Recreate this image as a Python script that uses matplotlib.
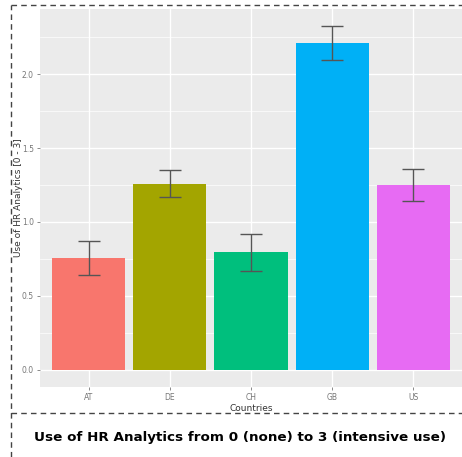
import numpy as np
import matplotlib.pyplot as plt
from matplotlib.lines import Line2D

# data
countries = ['AT', 'DE', 'CH', 'GB', 'US']
usage = [0.755, 1.26, 0.795, 2.21, 1.25]
errors = [0.115, 0.09, 0.124, 0.115, 0.106]
colors = ['#F8766D', '#A3A500', '#00BF7D', '#00B0F6', '#E76BF3']

W, H = 462, 457
fig = plt.figure(figsize=(W / 100, H / 100), dpi=100)
ax = fig.add_axes([40 / W, (H - 387) / H, (462 - 40) / W, (387 - 9) / H])

x = np.arange(len(countries))
ax.set_facecolor('#EBEBEB')
ax.bar(x, usage, width=0.9, color=colors, zorder=2)
ax.errorbar(x, usage, yerr=errors, fmt='none', ecolor='#555555',
            elinewidth=1.0, capsize=8, capthick=1.0, zorder=3)

ax.set_xlim(-0.6, len(countries) - 0.4)
ax.set_ylim(-0.116, 2.44)
ax.set_yticks([0.0, 0.5, 1.0, 1.5, 2.0])
ax.set_yticks([0.25, 0.75, 1.25, 1.75, 2.25], minor=True)
ax.set_yticklabels(['0.0', '0.5', '1.0', '1.5', '2.0'])
ax.set_xticks(x)
ax.set_xticklabels(countries)
ax.grid(True, which='major', color='white', linewidth=1.0, zorder=0)
ax.grid(True, which='minor', axis='y', color='white', linewidth=0.5, zorder=0)
ax.set_axisbelow(True)
for s in ax.spines.values():
    s.set_visible(False)
ax.tick_params(axis='both', which='major', length=2.5, width=0.6,
               color='#777777', labelsize=5.5, labelcolor='#777777', pad=2)
ax.tick_params(axis='y', which='minor', length=0)

ax.set_xlabel('Countries', fontsize=6.5, color='#333333', labelpad=1)
ax.set_ylabel('Use of HR Analytics [0 - 3]', fontsize=6.5, color='#333333')
ax.yaxis.set_label_coords((23 - 40) / (462 - 40), 0.5)

# dashed frame around the chart
dash = dict(color='#444444', linewidth=1.0, linestyle=(0, (4, 3)))
fig.add_artist(Line2D([11 / W, 11 / W], [0, 1 - 5 / H], transform=fig.transFigure, **dash))
fig.add_artist(Line2D([11 / W, 1], [1 - 5 / H, 1 - 5 / H], transform=fig.transFigure, **dash))
fig.add_artist(Line2D([11 / W, 1], [1 - 413 / H, 1 - 413 / H], transform=fig.transFigure, **dash))

fig.text(240 / W, 1 - 437 / H, 'Use of HR Analytics from 0 (none) to 3 (intensive use)',
         ha='center', va='center', fontsize=9.7, fontweight='bold', color='black')

plt.savefig('out.png', dpi=100)
